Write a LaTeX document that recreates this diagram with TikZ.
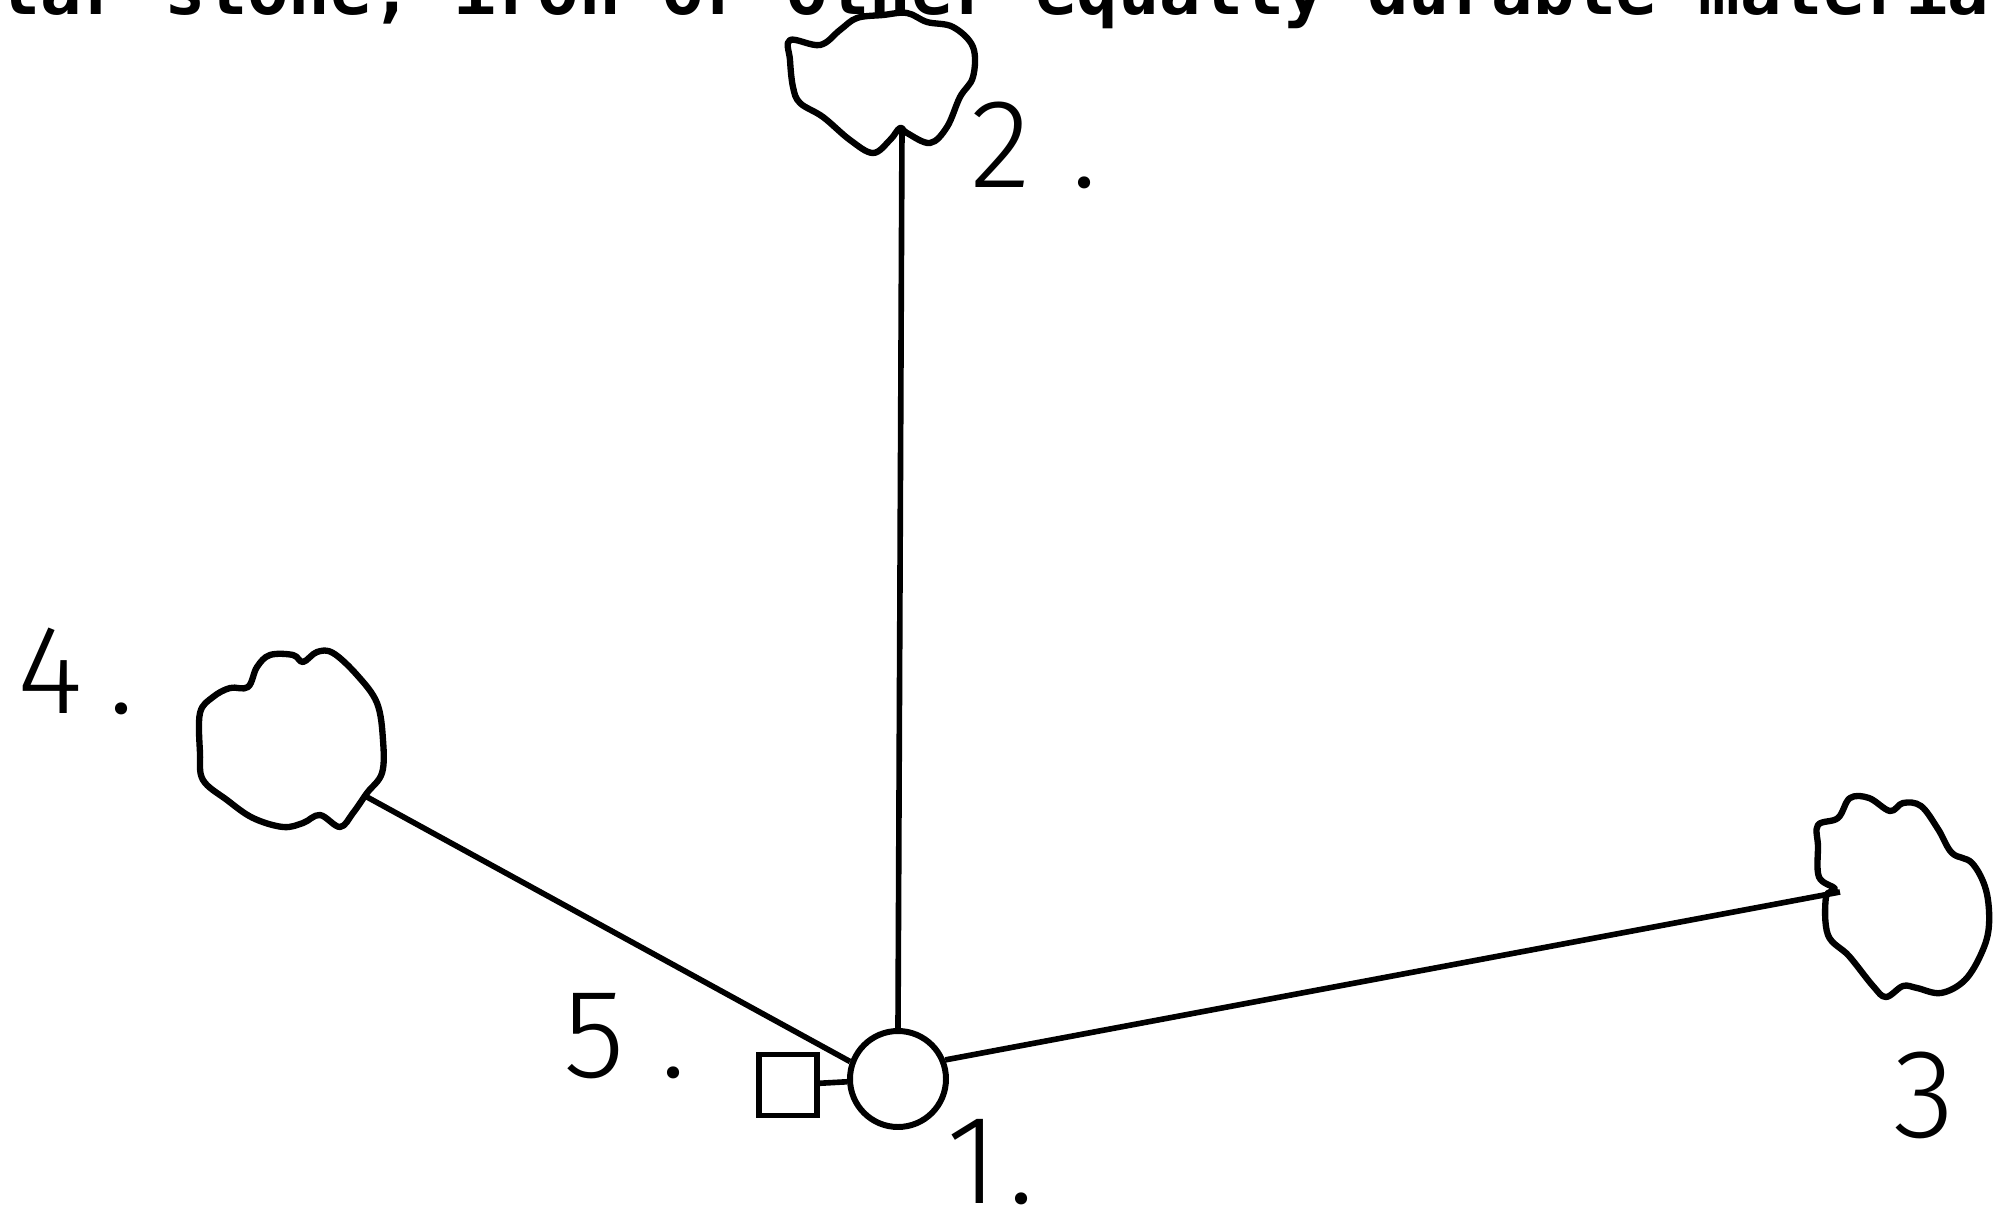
\documentclass[tikz,border=0pt]{standalone}
\usepackage{fontspec}
\setmainfont{Fira Sans Light}
\newfontfamily\scanfont{DejaVu Sans Mono}
\usepackage{tikz}
\usetikzlibrary{positioning}

\begin{document}
\begin{tikzpicture}[
    x=0.1mm, y=-0.1mm,
    ring/.style={draw, circle, line width=1.7pt, minimum size=9.6mm, inner sep=0pt},
    box/.style={draw, rectangle, line width=1.7pt, minimum width=5.8mm, minimum height=6.1mm, inner sep=0pt},
    blob/.style={line width=1.8pt, line join=round},
    tag/.style={inner sep=0pt, anchor=base west, font=\fontsize{36}{36}\selectfont},
    wire/.style={line width=1.6pt},
]
\useasboundingbox (0,0) rectangle (2003,1214);

% line of text cut off at the top edge
\begin{scope}
\clip (0,0) rectangle (2003,1214);
\node[inner sep=0pt, anchor=base west, font=\scanfont\bfseries\fontsize{19.6}{20}\selectfont] (head) at (-2,14) {lar stone, iron or other equally durable materia};
\end{scope}

\node[ring] (one) at (898,1079) {};
\node[box] (five) at (788,1085) {};

\coordinate (two) at (902,128);
\coordinate (three) at (1840,892);
\coordinate (four) at (367,797);

% the three blobs
\draw[blob] plot[smooth cycle, tension=0.6] coordinates {(790,40) (820,45) (840,30) (857,18) (883,15) (907,13) (927,22) (953,27) (973,47) (973,77) (960,97) (947,127) (930,143) (907,133) (900,128) (890,140) (873,153) (850,140) (823,117) (800,103) (793,87) (790,60)};
\draw[blob] plot[smooth cycle, tension=0.6] coordinates {(200,713) (213,697) (230,688) (248,687) (257,667) (270,655) (293,655) (303,662) (317,652) (333,653) (357,675) (377,703) (383,740) (382,773) (367,793) (353,813) (340,827) (320,815) (303,823) (283,827) (253,818) (227,800) (203,780) (200,753)};
\draw[blob] plot[smooth cycle, tension=0.6] coordinates {(1818,825) (1838,818) (1850,798) (1869,798) (1890,811) (1903,803) (1921,806) (1938,829) (1952,853) (1972,863) (1986,890) (1989,925) (1982,952) (1965,980) (1941,993) (1917,988) (1903,986) (1886,997) (1873,986) (1849,956) (1828,935) (1826,897) (1835,889) (1819,877) (1818,846)};

\draw[wire] (one.north) -- (two);
\draw[wire] (one.160) -- (four);
\draw[wire] (one.22) -- (three);
\draw[wire] (five) -- (one);

\node[tag] (tag1) at (946,1203) {1\kern1mm.};
\node[tag] (tag2) at (970,187) {2\kern4mm.};
\node[tag] (tag3) at (1893,1137) {3};
\node[tag] (tag4) at (17,713) {4\kern2.5mm.};
\node[tag] (tag5) at (563,1077) {5\kern3.5mm.};

\end{tikzpicture}
\end{document}
